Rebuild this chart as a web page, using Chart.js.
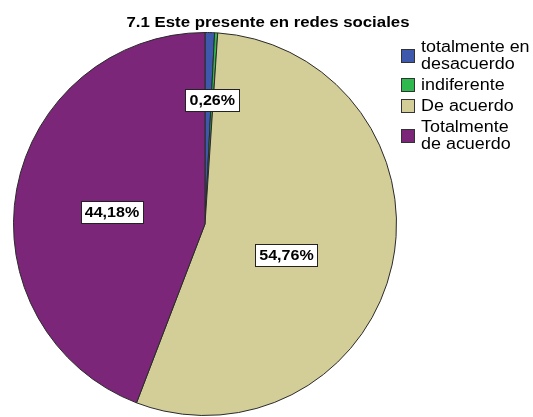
<!DOCTYPE html>
<html>
<head>
<meta charset="utf-8">
<script src="https://cdn.jsdelivr.net/npm/chart.js@4/dist/chart.umd.min.js"></script>
<style>
  html, body { margin: 0; padding: 0; background: #fff; }
  #wrap { width: 533px; height: 417px; }
</style>
</head>
<body>
<div id="wrap"><canvas id="pieChart" width="533" height="417"></canvas></div>
<script>
// Categories and percentages
const categories = ['totalmente en desacuerdo', 'indiferente', 'De acuerdo', 'Totalmente de acuerdo'];
const legendLines = [['totalmente en', 'desacuerdo'], ['indiferente'], ['De acuerdo'], ['Totalmente', 'de acuerdo']];
const percents = [0.80, 0.26, 54.76, 44.18];
const showLabel = [false, true, true, true];
const sliceColors = ['#3e58ac', '#2eb84e', '#d3ce98', '#7b2679'];
const chartTitle = '7.1 Este presente en redes sociales';

// where each value box sits inside its slice
const labelRadius = [0.5, 0.65, 0.455, 0.49];
const labelAngleShift = [0, 0, 8.4, -3];

const FONT = '"Liberation Sans", Arial, sans-serif';

function formatPct(v) {
    return v.toFixed(2).replace('.', ',') + '%';
}

// draw text widened horizontally around its anchor x
function wideText(ctx, text, x, y, stretch) {
    ctx.save();
    ctx.translate(x, y);
    ctx.scale(stretch, 1);
    ctx.fillText(text, 0, 0);
    ctx.restore();
}

// Title across the whole canvas
const topTitle = {
    id: 'topTitle',
    afterDraw(chart) {
        const ctx = chart.ctx;
        ctx.save();
        ctx.font = 'bold 15px ' + FONT;
        ctx.fillStyle = '#000';
        ctx.textAlign = 'center';
        ctx.textBaseline = 'alphabetic';
        wideText(ctx, chartTitle, 268, 27, 1.12);
        ctx.restore();
    }
};

// Value boxes drawn on the slices
const valueBoxes = {
    id: 'valueBoxes',
    afterDatasetsDraw(chart) {
        const ctx = chart.ctx;
        const arcs = chart.getDatasetMeta(0).data;
        const stretch = 1.07;
        ctx.save();
        ctx.font = 'bold 15px ' + FONT;
        ctx.textAlign = 'center';
        ctx.textBaseline = 'middle';
        arcs.forEach((arc, i) => {
            if (!showLabel[i]) return;
            const p = arc.getProps(['x', 'y', 'startAngle', 'endAngle', 'outerRadius'], true);
            const mid = (p.startAngle + p.endAngle) / 2 + labelAngleShift[i] * Math.PI / 180;
            const r = p.outerRadius * labelRadius[i];
            const cx = p.x + Math.cos(mid) * r;
            const cy = p.y + Math.sin(mid) * r;
            const text = formatPct(percents[i]);
            const w = Math.round(ctx.measureText(text).width * stretch + 8);
            const h = 22;
            const bx = Math.round(cx - w / 2) + 0.5;
            const by = Math.round(cy - h / 2) + 0.5;
            ctx.fillStyle = '#fff';
            ctx.fillRect(bx, by, w, h);
            ctx.strokeStyle = '#222';
            ctx.lineWidth = 1;
            ctx.strokeRect(bx, by, w, h);
            ctx.fillStyle = '#000';
            wideText(ctx, text, cx, cy + 1, stretch);
        });
        ctx.restore();
    }
};

// Legend on the right, with wrapped labels
const sideLegend = {
    id: 'sideLegend',
    afterDraw(chart) {
        const ctx = chart.ctx;
        const colors = chart.data.datasets[0].backgroundColor;
        const x0 = 401, textX = 421, lineH = 17, gap = 4, box = 14;
        let y = 52;
        ctx.save();
        ctx.font = '16px ' + FONT;
        ctx.textAlign = 'left';
        ctx.textBaseline = 'alphabetic';
        legendLines.forEach((lines, i) => {
            const first = y - 5;
            const last = y + (lines.length - 1) * lineH - 5;
            const mid = (first + last) / 2;
            ctx.fillStyle = colors[i];
            ctx.fillRect(x0, Math.round(mid - box / 2), box, box);
            ctx.strokeStyle = '#333';
            ctx.lineWidth = 1;
            ctx.strokeRect(x0 + 0.5, Math.round(mid - box / 2) + 0.5, box - 1, box - 1);
            ctx.fillStyle = '#000';
            lines.forEach((t, k) => wideText(ctx, t, textX, y + k * lineH, 1.12));
            y += lines.length * lineH + gap;
        });
        ctx.restore();
    }
};

new Chart(document.getElementById('pieChart'), {
    type: 'pie',
    data: {
        labels: categories,
        datasets: [{
            data: percents,
            backgroundColor: sliceColors,
            borderColor: '#2a2a2a',
            borderWidth: 1
        }]
    },
    options: {
        responsive: false,
        animation: false,
        layout: { padding: { left: 13, right: 136, top: 32, bottom: 1 } },
        plugins: {
            legend: { display: false },
            tooltip: { enabled: false },
            title: { display: false }
        }
    },
    plugins: [valueBoxes, sideLegend, topTitle]
});
</script>
</body>
</html>
